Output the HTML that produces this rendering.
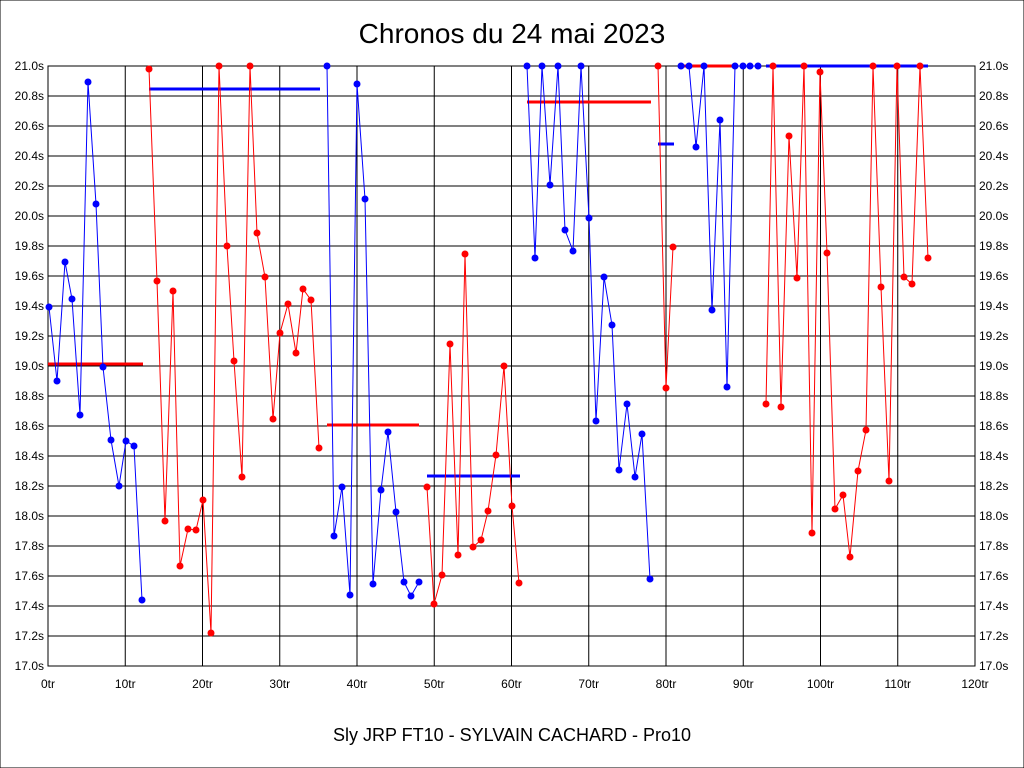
<!DOCTYPE html>
<html><head><meta charset="utf-8"><style>body{margin:0;background:#fff}svg{display:block}</style></head><body>
<svg width="1024" height="768" xmlns="http://www.w3.org/2000/svg" font-family="Liberation Sans, sans-serif">
<rect x="0" y="0" width="1024" height="768" fill="#fff" stroke="#000" stroke-width="1"/>
<text x="512" y="43" font-size="28" text-anchor="middle">Chronos du 24 mai 2023</text>
<text x="512" y="741" font-size="18" text-anchor="middle">Sly JRP FT10 - SYLVAIN CACHARD - Pro10</text>
<g id="grid" stroke="#000" stroke-width="1"></g>
<g id="labels" font-size="12"></g>
<g id="series"></g>
<script>
var g=document.getElementById('grid'),L=document.getElementById('labels'),S=document.getElementById('series');
var ns='http://www.w3.org/2000/svg';
function el(p,t,a,txt){var e=document.createElementNS(ns,t);for(var k in a)e.setAttribute(k,a[k]);if(txt!==undefined)e.textContent=txt;p.appendChild(e);return e;}
var x0=48,x1=975,y0=66,y1=666;
el(g,'rect',{x:x0,y:y0,width:x1-x0,height:y1-y0,fill:'none'});
for(var i=0;i<=20;i++){var y=y0+i*30;el(g,'line',{x1:x0,x2:x1,y1:y,y2:y});
var v=(21-i*0.2).toFixed(1)+'s';el(L,'text',{x:44,y:y+4,'text-anchor':'end'},v);el(L,'text',{x:979,y:y+4},v);}
for(var i=0;i<=12;i++){var x=x0+i*(x1-x0)/12;el(g,'line',{x1:x,x2:x,y1:y0,y2:y1});el(L,'text',{x:x,y:688,'text-anchor':'middle'},(i*10)+'tr');}
var segs=[
['#00f',[[49,307],[57,381],[65,262],[72,299],[80,415],[88,82],[96,204],[103,367],[111,440],[119,486],[126,441],[134,446],[142,600]]],
['#f00',[[149,69],[157,281],[165,521],[173,291],[180,566],[188,529],[196,530],[203,500],[211,633],[219,66],[227,246],[234,361],[242,477],[250,66],[257,233],[265,277],[273,419],[280,333],[288,304],[296,353],[303,289],[311,300],[319,448]]],
['#00f',[[327,66],[334,536],[342,487],[350,595],[357,84],[365,199],[373,584],[381,490],[388,432],[396,512],[404,582],[411,596],[419,582]]],
['#f00',[[427,487],[434,604],[442,575],[450,344],[458,555],[465,254],[473,547],[481,540],[488,511],[496,455],[504,406],[512,366],[512,506],[519,583]]],
['#00f',[[527,66],[535,258],[542,66],[550,185],[558,66],[565,230],[573,251],[581,66],[589,218],[596,421],[604,277],[612,325],[619,470],[627,404],[635,477],[642,434],[650,579]]],
['#f00',[[658,66],[666,388],[673,247]]],
['#00f',[[681,66],[689,66],[696,147],[704,66],[712,310],[720,120],[727,387],[735,66],[743,66],[750,66],[758,66]]],
['#f00',[[766,404],[773,66],[781,407],[789,136],[797,278],[804,66],[812,533],[820,72],[827,253],[835,509],[843,495],[850,557],[858,471],[866,430],[873,66],[881,287],[889,481],[897,66],[904,277],[912,284],[920,66],[928,258]]]];
// fix red segment 4: remove duplicated x
segs[3][1]=[[427,487],[434,604],[442,575],[450,344],[458,555],[465,254],[473,547],[481,540],[488,511],[496,455],[504,406],[504,366],[512,506],[519,583]];
segs[3][1]=[[427,487],[434,604],[442,575],[450,344],[458,555],[465,254],[473,547],[481,540],[488,511],[496,455],[504,366],[512,506],[519,583]];
var avg=[['#f00',48,143,364],['#00f',149,320,89],['#f00',327,419,425],['#00f',427,520,476],['#f00',527,651,102],['#00f',658,674,144],['#f00',681,735,66],['#00f',766,928,66]];
avg.forEach(function(a){el(S,'line',{x1:a[1],x2:a[2],y1:a[3],y2:a[3],stroke:a[0],'stroke-width':3});});
segs.forEach(function(s){el(S,'polyline',{points:s[1].map(function(p){return p.join(',')}).join(' '),fill:'none',stroke:s[0],'stroke-width':1});
s[1].forEach(function(p){el(S,'circle',{cx:p[0],cy:p[1],r:3.5,fill:s[0]});});});
</script>
</svg>
</body></html>
